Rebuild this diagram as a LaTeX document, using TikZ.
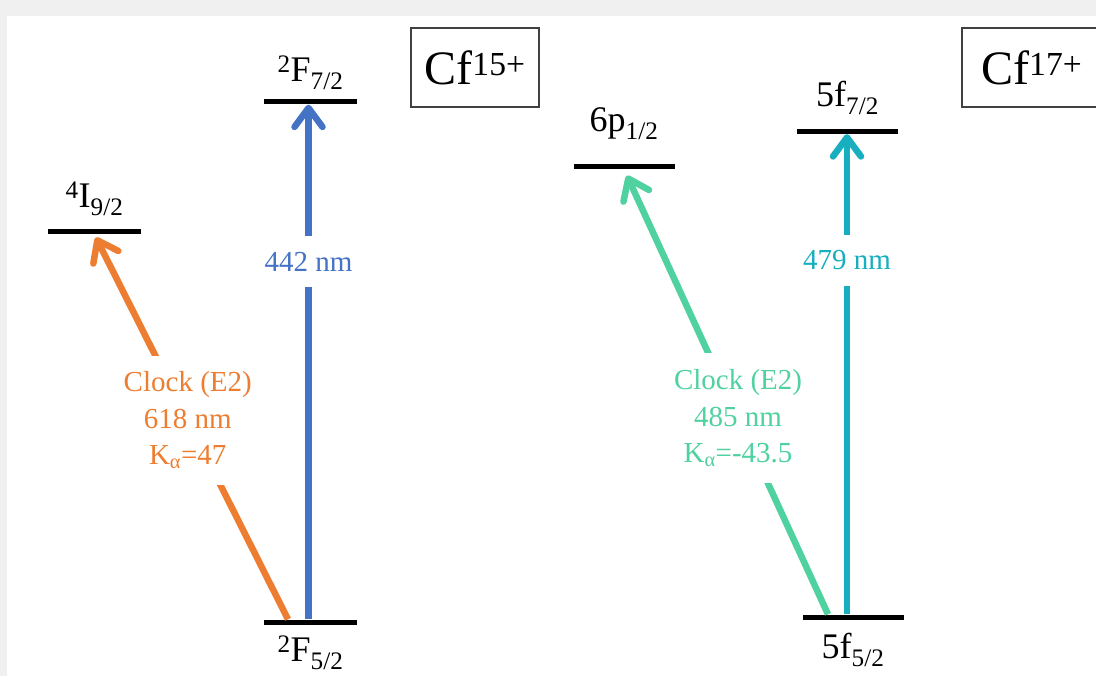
\documentclass[tikz,border=0pt]{standalone}
\usepackage{fontspec}
\setmainfont{Liberation Serif}
\usepackage{tikz}
\usetikzlibrary{arrows.meta, positioning}

\definecolor{clkorange}{HTML}{ED7D31}
\definecolor{trblue}{HTML}{4472C4}
\definecolor{trteal}{HTML}{17AEBF}
\definecolor{clkgreen}{HTML}{4FD1A0}
\definecolor{bggray}{HTML}{F0F0F0}

\begin{document}
\begin{tikzpicture}[
			x=1pt, y=-1pt,
			lvl/.style={rectangle, fill=black, inner sep=0pt, minimum width=93pt, minimum height=5pt},
			lvlname/.style={font=\fontsize{36}{40}\selectfont, inner sep=0pt},
			ionbox/.style={rectangle, draw=black!75, line width=1.5pt, minimum width=128pt, minimum height=79pt, inner sep=0pt, font=\fontsize{48}{52}\selectfont},
			transarrow/.style={line width=6.5pt, -{Straight Barb[round, length=19pt, width=28pt]}},
			wavelabel/.style={fill=white, inner xsep=4pt, inner ysep=16pt, align=center, font=\fontsize{29}{36.5}\selectfont}
			]
			
			% Fondo
			\fill[bggray] (0,0) rectangle (1096,676);
			\fill[white] (7,16) rectangle (1096,676);
			\clip (0,0) rectangle (1096,676);
			
			% Niveles Cf15+
			\node (F52) [lvl] at (310.5,622) {};
			\node (F72) [lvl] at (310.5,102) {};
			\node (I92) [lvl] at (94.5,232) {};
			\node (F52name) [lvlname, below=37pt of F52, anchor=base] {\textsuperscript{2}F\textsubscript{5/2}};
			\node (F72name) [lvlname, above=17.5pt of F72, anchor=base] {\textsuperscript{2}F\textsubscript{7/2}};
			\node (I92name) [lvlname, above=22pt of I92, anchor=base] {\textsuperscript{4}I\textsubscript{9/2}};
			\node (ion15) [ionbox] at (475,67.5) {Cf\textsuperscript{15+}};
			
			% Niveles Cf17+
			\node (f52) [lvl, minimum width=101pt] at (853,617) {};
			\node (f72) [lvl, minimum width=101pt] at (847.5,131.5) {};
			\node (p12) [lvl, minimum width=101pt] at (624,166.5) {};
			\node (f52name) [lvlname, below=39pt of f52, anchor=base] {5f\textsubscript{5/2}};
			\node (f72name) [lvlname, above=22pt of f72, anchor=base] {5f\textsubscript{7/2}};
			\node (p12name) [lvlname, above=32pt of p12, anchor=base] {6p\textsubscript{1/2}};
			\node (ion17) [ionbox, minimum width=140pt, anchor=west] at (961,67.5) {Cf\textsuperscript{17+}};
			
			% Transiciones
			\draw [transarrow, trblue] ([xshift=-2pt]F52.north) -- node[wavelabel, text=trblue, pos=0.695] {442 nm} ([xshift=-2pt]F72.south);
			\draw [transarrow, clkorange, shorten >=3pt] ([xshift=-22.5pt]F52.north) -- node[wavelabel, text=clkorange, pos=0.518] {Clock (E2)\\618 nm\\K\textsubscript{α}=47} (I92.south);
			\draw [transarrow, trteal] ([xshift=-6pt]f52.north) -- node[wavelabel, text=trteal, pos=0.737] {479 nm} ([xshift=-0.5pt]f72.south);
			\draw [transarrow, clkgreen, shorten >=7pt] ([xshift=-25pt]f52.north) -- node[wavelabel, text=clkgreen, pos=0.441] {Clock (E2)\\485 nm\\K\textsubscript{α}=-43.5} (p12.south);
			
		\end{tikzpicture}
\end{document}
